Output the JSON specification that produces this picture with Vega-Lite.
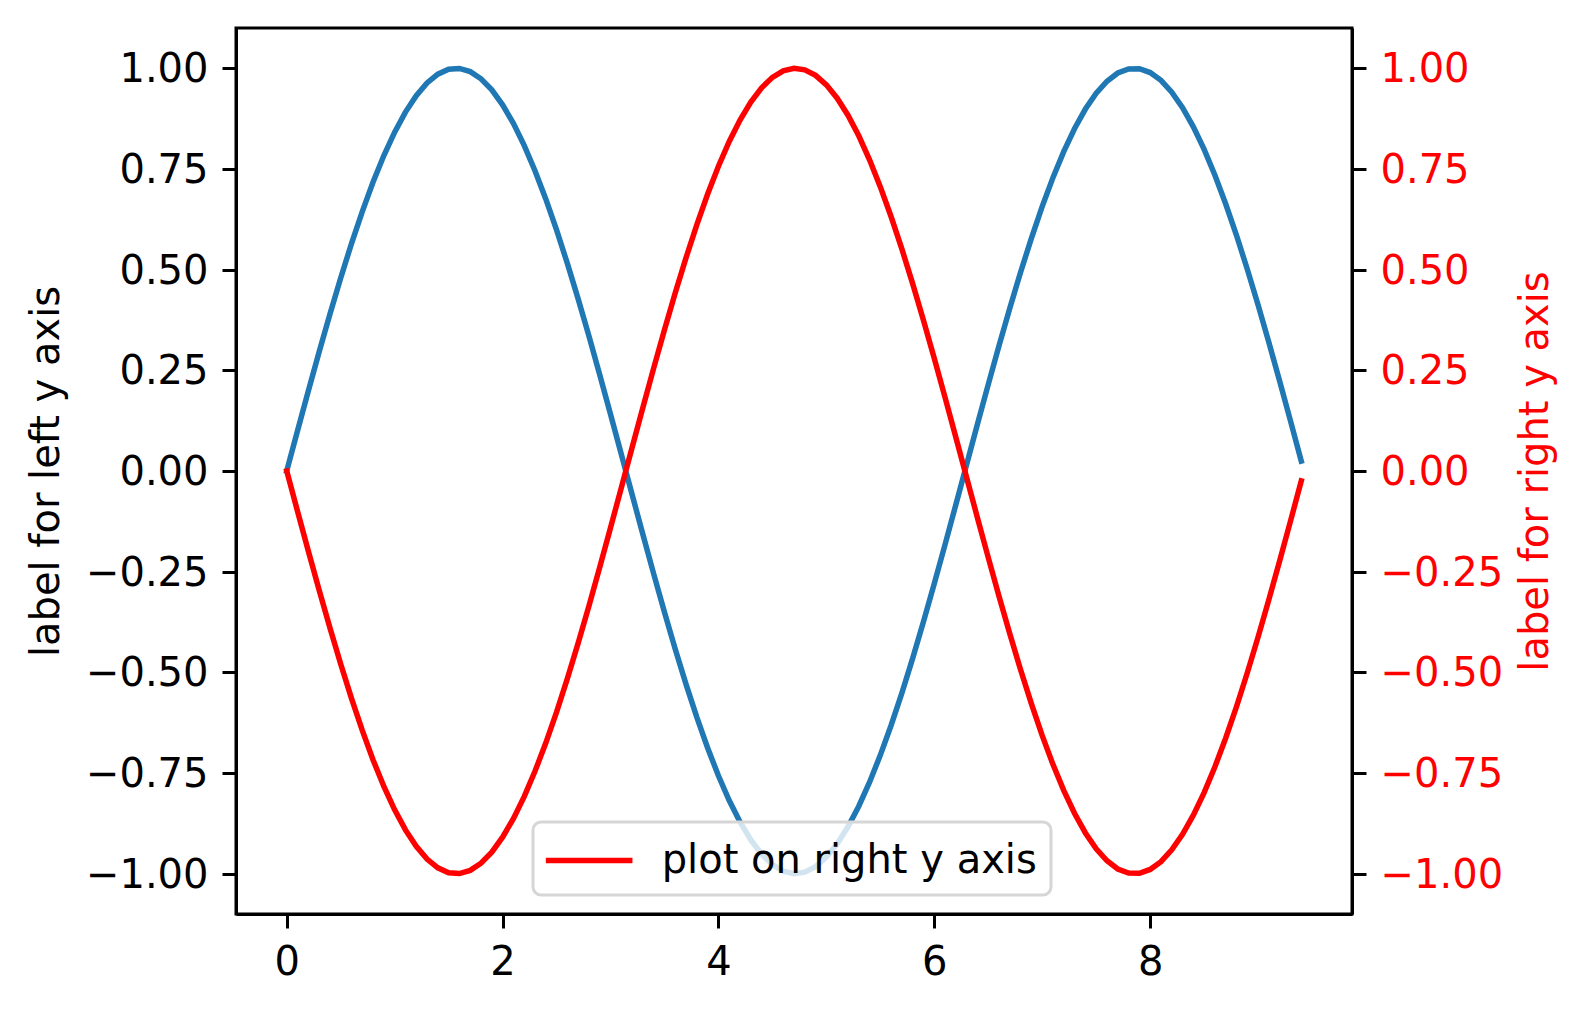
{
  "$schema": "https://vega.github.io/schema/vega-lite/v6.json",
  "width": 1116,
  "height": 886,
  "autosize": {"type": "none"},
  "padding": {"left": 236, "top": 28, "right": 235, "bottom": 98},
  "background": "white",
  "config": {
    "view": {"stroke": "black", "strokeWidth": 3},
    "axis": {
      "grid": false,
      "domainColor": "black",
      "domainWidth": 3,
      "tickColor": "black",
      "tickWidth": 3,
      "tickSize": 14,
      "labelFont": "DejaVu Sans",
      "labelFontSize": 40,
      "labelColor": "black",
      "labelPadding": 14,
      "titleFont": "DejaVu Sans",
      "titleFontSize": 40,
      "titleFontWeight": "normal",
      "titleColor": "black",
      "labelOverlap": false,
      "labelFlush": false
    }
  },
  "data": {
    "values": [
      {"x": 0.0, "s": 0.0, "r": 0.0},
      {"x": 0.1, "s": 0.0998, "r": -0.0998},
      {"x": 0.2, "s": 0.1987, "r": -0.1987},
      {"x": 0.3, "s": 0.2955, "r": -0.2955},
      {"x": 0.4, "s": 0.3894, "r": -0.3894},
      {"x": 0.5, "s": 0.4794, "r": -0.4794},
      {"x": 0.6, "s": 0.5646, "r": -0.5646},
      {"x": 0.7, "s": 0.6442, "r": -0.6442},
      {"x": 0.8, "s": 0.7174, "r": -0.7174},
      {"x": 0.9, "s": 0.7833, "r": -0.7833},
      {"x": 1.0, "s": 0.8415, "r": -0.8415},
      {"x": 1.1, "s": 0.8912, "r": -0.8912},
      {"x": 1.2, "s": 0.932, "r": -0.932},
      {"x": 1.3, "s": 0.9636, "r": -0.9636},
      {"x": 1.4, "s": 0.9854, "r": -0.9854},
      {"x": 1.5, "s": 0.9975, "r": -0.9975},
      {"x": 1.6, "s": 0.9996, "r": -0.9996},
      {"x": 1.7, "s": 0.9917, "r": -0.9917},
      {"x": 1.8, "s": 0.9738, "r": -0.9738},
      {"x": 1.9, "s": 0.9463, "r": -0.9463},
      {"x": 2.0, "s": 0.9093, "r": -0.9093},
      {"x": 2.1, "s": 0.8632, "r": -0.8632},
      {"x": 2.2, "s": 0.8085, "r": -0.8085},
      {"x": 2.3, "s": 0.7457, "r": -0.7457},
      {"x": 2.4, "s": 0.6755, "r": -0.6755},
      {"x": 2.5, "s": 0.5985, "r": -0.5985},
      {"x": 2.6, "s": 0.5155, "r": -0.5155},
      {"x": 2.7, "s": 0.4274, "r": -0.4274},
      {"x": 2.8, "s": 0.335, "r": -0.335},
      {"x": 2.9, "s": 0.2392, "r": -0.2392},
      {"x": 3.0, "s": 0.1411, "r": -0.1411},
      {"x": 3.1, "s": 0.0416, "r": -0.0416},
      {"x": 3.2, "s": -0.0584, "r": 0.0584},
      {"x": 3.3, "s": -0.1577, "r": 0.1577},
      {"x": 3.4, "s": -0.2555, "r": 0.2555},
      {"x": 3.5, "s": -0.3508, "r": 0.3508},
      {"x": 3.6, "s": -0.4425, "r": 0.4425},
      {"x": 3.7, "s": -0.5298, "r": 0.5298},
      {"x": 3.8, "s": -0.6119, "r": 0.6119},
      {"x": 3.9, "s": -0.6878, "r": 0.6878},
      {"x": 4.0, "s": -0.7568, "r": 0.7568},
      {"x": 4.1, "s": -0.8183, "r": 0.8183},
      {"x": 4.2, "s": -0.8716, "r": 0.8716},
      {"x": 4.3, "s": -0.9162, "r": 0.9162},
      {"x": 4.4, "s": -0.9516, "r": 0.9516},
      {"x": 4.5, "s": -0.9775, "r": 0.9775},
      {"x": 4.6, "s": -0.9937, "r": 0.9937},
      {"x": 4.7, "s": -0.9999, "r": 0.9999},
      {"x": 4.8, "s": -0.9962, "r": 0.9962},
      {"x": 4.9, "s": -0.9825, "r": 0.9825},
      {"x": 5.0, "s": -0.9589, "r": 0.9589},
      {"x": 5.1, "s": -0.9258, "r": 0.9258},
      {"x": 5.2, "s": -0.8835, "r": 0.8835},
      {"x": 5.3, "s": -0.8323, "r": 0.8323},
      {"x": 5.4, "s": -0.7728, "r": 0.7728},
      {"x": 5.5, "s": -0.7055, "r": 0.7055},
      {"x": 5.6, "s": -0.6313, "r": 0.6313},
      {"x": 5.7, "s": -0.5507, "r": 0.5507},
      {"x": 5.8, "s": -0.4646, "r": 0.4646},
      {"x": 5.9, "s": -0.3739, "r": 0.3739},
      {"x": 6.0, "s": -0.2794, "r": 0.2794},
      {"x": 6.1, "s": -0.1822, "r": 0.1822},
      {"x": 6.2, "s": -0.0831, "r": 0.0831},
      {"x": 6.3, "s": 0.0168, "r": -0.0168},
      {"x": 6.4, "s": 0.1165, "r": -0.1165},
      {"x": 6.5, "s": 0.2151, "r": -0.2151},
      {"x": 6.6, "s": 0.3115, "r": -0.3115},
      {"x": 6.7, "s": 0.4048, "r": -0.4048},
      {"x": 6.8, "s": 0.4941, "r": -0.4941},
      {"x": 6.9, "s": 0.5784, "r": -0.5784},
      {"x": 7.0, "s": 0.657, "r": -0.657},
      {"x": 7.1, "s": 0.729, "r": -0.729},
      {"x": 7.2, "s": 0.7937, "r": -0.7937},
      {"x": 7.3, "s": 0.8504, "r": -0.8504},
      {"x": 7.4, "s": 0.8987, "r": -0.8987},
      {"x": 7.5, "s": 0.938, "r": -0.938},
      {"x": 7.6, "s": 0.9679, "r": -0.9679},
      {"x": 7.7, "s": 0.9882, "r": -0.9882},
      {"x": 7.8, "s": 0.9985, "r": -0.9985},
      {"x": 7.9, "s": 0.9989, "r": -0.9989},
      {"x": 8.0, "s": 0.9894, "r": -0.9894},
      {"x": 8.1, "s": 0.9699, "r": -0.9699},
      {"x": 8.2, "s": 0.9407, "r": -0.9407},
      {"x": 8.3, "s": 0.9022, "r": -0.9022},
      {"x": 8.4, "s": 0.8546, "r": -0.8546},
      {"x": 8.5, "s": 0.7985, "r": -0.7985},
      {"x": 8.6, "s": 0.7344, "r": -0.7344},
      {"x": 8.7, "s": 0.663, "r": -0.663},
      {"x": 8.8, "s": 0.5849, "r": -0.5849},
      {"x": 8.9, "s": 0.501, "r": -0.501},
      {"x": 9.0, "s": 0.4121, "r": -0.4121},
      {"x": 9.1, "s": 0.3191, "r": -0.3191},
      {"x": 9.2, "s": 0.2229, "r": -0.2229},
      {"x": 9.3, "s": 0.1245, "r": -0.1245},
      {"x": 9.4, "s": 0.0248, "r": -0.0248}
    ]
  },
  "encoding": {
    "x": {
      "field": "x",
      "type": "quantitative",
      "scale": {"domain": [-0.47, 9.87], "nice": false, "zero": false},
      "axis": {"values": [0, 2, 4, 6, 8], "format": "d", "title": null}
    }
  },
  "layer": [
    {
      "mark": {"type": "line", "color": "#1f77b4", "strokeWidth": 5.5, "strokeCap": "square"},
      "encoding": {
        "y": {
          "field": "s",
          "type": "quantitative",
          "scale": {"domain": [-1.1, 1.1], "nice": false, "zero": false},
          "axis": {
            "orient": "left",
            "values": [-1, -0.75, -0.5, -0.25, 0, 0.25, 0.5, 0.75, 1],
            "format": ".2f",
            "labelOffset": 1.5,
            "title": "label for left y axis",
            "titleBaseline": "alphabetic",
            "titlePadding": 27
          }
        }
      }
    },
    {
      "mark": {"type": "line", "strokeWidth": 5.5, "strokeCap": "square"},
      "encoding": {
        "y": {
          "field": "r",
          "type": "quantitative",
          "scale": {"domain": [-1.1, 1.1], "nice": false, "zero": false},
          "axis": {
            "orient": "right",
            "values": [-1, -0.75, -0.5, -0.25, 0, 0.25, 0.5, 0.75, 1],
            "format": ".2f",
            "labelOffset": 1.5,
            "title": "label for right y axis",
            "labelColor": "#ff0000",
            "titleColor": "#ff0000",
            "titleAngle": 270,
            "titleBaseline": "alphabetic",
            "titlePadding": 45
          }
        },
        "color": {
          "datum": "plot on right y axis",
          "type": "nominal",
          "scale": {"range": ["#ff0000"]},
          "legend": {
            "orient": "none",
            "legendX": 297,
            "legendY": 794,
            "title": null,
            "symbolType": "M-2,0H2",
            "symbolSize": 1875,
            "symbolOffset": 17.65,
            "symbolStrokeWidth": 5.5,
            "symbolStrokeColor": "#ff0000",
            "symbolFillColor": "transparent",
            "labelFont": "DejaVu Sans",
            "labelFontSize": 40,
            "labelColor": "black",
            "labelOffset": 48,
            "labelLimit": 0,
            "padding": 14,
            "fillColor": "rgba(255,255,255,0.8)",
            "strokeColor": "#d6d6d6",
            "cornerRadius": 8,
            "encode": {"legend": {"update": {"strokeWidth": {"value": 3}}}}
          }
        }
      }
    }
  ],
  "resolve": {"scale": {"y": "independent"}}
}
